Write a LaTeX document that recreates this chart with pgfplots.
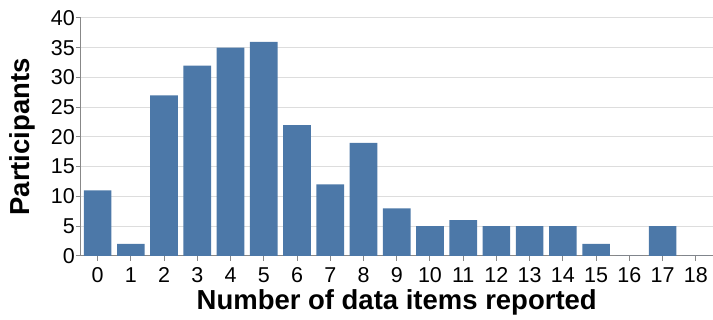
\documentclass[border=0pt]{standalone}
\usepackage{pgfplots}
\pgfplotsset{compat=1.18}
\usepackage{fontspec}
\setmainfont{Liberation Sans}
\definecolor{barblue}{HTML}{4C78A8}
\definecolor{domaingray}{HTML}{888888}
\definecolor{gridgray}{HTML}{DDDDDD}
\begin{document}
\begin{tikzpicture}
\begin{axis}[
 width=632pt, height=238pt, scale only axis,
 xmin=-0.5, xmax=18.5, ymin=0, ymax=40,
 axis x line*=bottom, axis y line*=left,
 axis line style={draw=domaingray, line width=1pt},
 xtick={0,...,18}, ytick={0,5,...,40},
 tick align=outside, major tick length=5pt,
 tick style={draw=domaingray, line width=1pt},
 ymajorgrids, grid style={draw=gridgray, line width=1pt},
 /pgf/number format/assume math mode=true,
 ticklabel style={font=\fontsize{21.5}{21.5}\selectfont, inner sep=0pt},
 xticklabel style={anchor=base, yshift=-22pt},
 yticklabel style={anchor=east, xshift=-1pt},
 label style={font=\bfseries\fontsize{27.5}{27.5}\selectfont, inner sep=0pt},
 xlabel={Number of data items reported},
 xlabel style={at={(axis description cs:0.5,0)}, anchor=base, yshift=-54pt},
 ylabel={Participants},
 ylabel style={at={(axis description cs:0,0.5)}, anchor=south, yshift=46pt},
 ybar, bar width=0.83,
]
\addplot[fill=barblue, draw=none] coordinates {
(0,11) (1,2) (2,27) (3,32) (4,35) (5,36) (6,22) (7,12) (8,19) (9,8)
(10,5) (11,6) (12,5) (13,5) (14,5) (15,2) (16,0) (17,5) (18,0)};
\end{axis}
\path ([shift={(-81pt,-64pt)}]current axis.south west) rectangle ([shift={(0pt,18pt)}]current axis.north east);
\end{tikzpicture}
\end{document}
